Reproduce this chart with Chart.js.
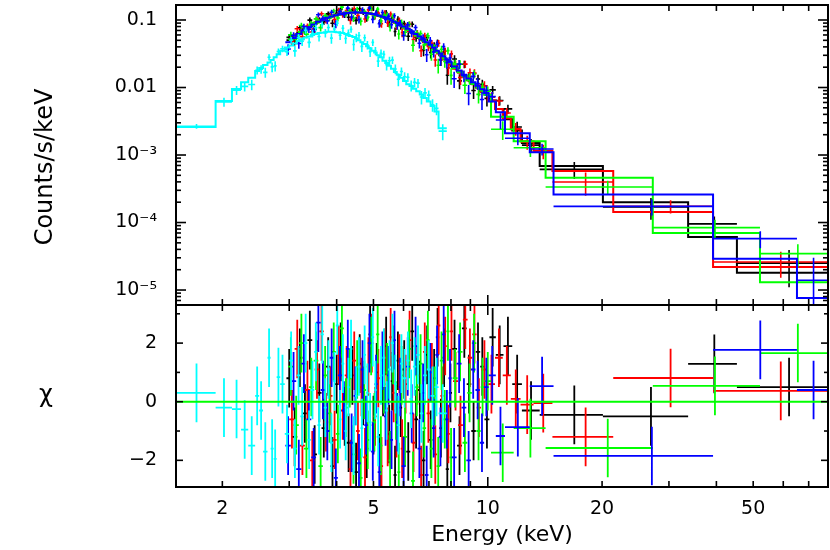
<!DOCTYPE html>
<html>
<head>
<meta charset="utf-8">
<title>Spektrum</title>
<script src="https://cdn.jsdelivr.net/npm/chart.js@4.4.1/dist/chart.umd.min.js"></script>
<style>
  html, body { margin: 0; padding: 0; background: #fff; }
  canvas { display: block; }
</style>
</head>
<body>
<canvas id="myChart" width="830" height="550"></canvas>
<script>
// Achsenbereiche
const xMin = 1.51, xMax = 78.7;
const fluxMin = 6.0e-6, fluxMax = 0.1668;
const chiMin = -2.91, chiMax = 3.3;

// Achsenbeschriftungen
const xTickValues = [2, 5, 10, 20, 50];
const xTickLabels = ['2', '5', '10', '20', '50'];
const xMinorTicks = [2, 3, 4, 5, 6, 7, 8, 9, 20, 30, 40, 50, 60, 70];
const xMajorTicks = [10];
const fluxTickValues = [1e-5, 1e-4, 1e-3, 0.01, 0.1];
const fluxTickLabels = ['10⁻⁵', '10⁻⁴', '10⁻³', '0.01', '0.1'];
const chiTickValues = [-2, 0, 2];
const chiTickLabels = ['−2', '0', '2'];
const chiMinorTicks = [-1, 1, 3];

// Daten: Kanalgrenzen (keV), Modell (Counts/s/keV), relativer Fehler, Residuen (chi)
const blackEdges = [2.95, 3.05, 3.15, 3.25, 3.35, 3.45, 3.55, 3.65, 3.75, 3.85, 3.95, 4.05, 4.15, 4.25, 4.35, 4.45, 4.55, 4.65, 4.75, 4.85,
    4.95, 5.05, 5.15, 5.25, 5.35, 5.45, 5.55, 5.65, 5.75, 5.85, 5.95, 6.1, 6.25, 6.4, 6.55, 6.7, 6.85, 7.0, 7.15, 7.3,
    7.45, 7.6, 7.75, 7.9, 8.05, 8.3, 8.55, 8.8, 9.05, 9.3, 9.55, 9.8, 10.1, 10.5, 11.0, 11.6, 12.3, 13.7, 20.1, 33.7, 45.3, 79];
const blackModel = [0.050, 0.057, 0.065, 0.073, 0.081, 0.089, 0.097, 0.104, 0.110, 0.115, 0.119, 0.123, 0.126, 0.128, 0.129, 0.130, 0.130, 0.129, 0.127, 0.125,
    0.122, 0.119, 0.115, 0.111, 0.107, 0.102, 0.098, 0.093, 0.088, 0.084, 0.078, 0.072, 0.066, 0.060, 0.054, 0.050, 0.045, 0.041, 0.037, 0.034,
    0.030, 0.027, 0.025, 0.023, 0.020, 0.0172, 0.0150, 0.0129, 0.0113, 0.0100, 0.0089, 0.0079, 0.0064, 0.0048, 0.0034, 0.0023, 0.0015, 6.9e-4, 2.0e-4, 6.1e-5, 1.8e-5];
const blackRelErr = [0.13, 0.12, 0.12, 0.11, 0.11, 0.10, 0.10, 0.10, 0.10, 0.10, 0.10, 0.10, 0.10, 0.10, 0.10, 0.10, 0.10, 0.10, 0.10, 0.10,
    0.10, 0.10, 0.10, 0.11, 0.11, 0.11, 0.11, 0.11, 0.12, 0.12, 0.12, 0.12, 0.13, 0.13, 0.13, 0.14, 0.14, 0.15, 0.15, 0.16,
    0.16, 0.17, 0.17, 0.18, 0.18, 0.18, 0.19, 0.19, 0.20, 0.20, 0.21, 0.21, 0.20, 0.21, 0.22, 0.22, 0.22, 0.25, 0.30, 0.44, 0.78];
const blackChi = [0.8, -1.2, 1.5, -0.4, 2.1, -1.8, 0.3, -0.9, 1.2, -2.2, 0.6, 1.7, -0.5, -1.4, 0.9, -2.4, 1.3, 0.2, -1.6, 2.3,
    -0.8, 1.0, -2.1, 0.5, 1.9, -1.1, 0.7, -2.5, 1.4, -0.2, 1.1, -1.7, 2.4, -0.6, 0.4, -2.0, 1.6, -1.3, 0.8, 2.2,
    -0.9, 1.5, -2.3, 0.3, 1.8, -1.5, 2.5, 0.6, -1.0, 1.7, 1.2, -0.6, 2.2, 1.6, 1.9, 0.6, -0.3, -0.45, -0.5, 1.29, 0.5];

const redEdges = [3.0, 3.1, 3.2, 3.3, 3.4, 3.5, 3.6, 3.7, 3.8, 3.9, 4.0, 4.1, 4.2, 4.3, 4.4, 4.5, 4.6, 4.7, 4.8, 4.9,
    5.0, 5.1, 5.2, 5.3, 5.4, 5.5, 5.6, 5.7, 5.8, 5.9, 6.0, 6.15, 6.3, 6.45, 6.6, 6.75, 6.9, 7.05, 7.2, 7.35,
    7.5, 7.65, 7.8, 7.95, 8.1, 8.35, 8.6, 8.85, 9.1, 9.35, 9.6, 10.0, 10.45, 10.95, 11.5, 12.2, 13.2, 14.8, 21.4, 39.2, 79];
const redModel = [0.053, 0.061, 0.069, 0.077, 0.085, 0.093, 0.100, 0.107, 0.112, 0.117, 0.121, 0.124, 0.127, 0.128, 0.129, 0.129, 0.129, 0.128, 0.126, 0.123,
    0.120, 0.117, 0.113, 0.109, 0.104, 0.099, 0.095, 0.090, 0.085, 0.081, 0.075, 0.069, 0.063, 0.057, 0.052, 0.047, 0.043, 0.039, 0.035, 0.032,
    0.029, 0.026, 0.024, 0.022, 0.019, 0.0166, 0.0145, 0.0127, 0.0112, 0.0099, 0.0086, 0.0064, 0.0048, 0.0035, 0.0024, 0.0016, 0.00116, 5.8e-4, 1.43e-4, 2.2e-5];
const redRelErr = [0.13, 0.12, 0.12, 0.11, 0.11, 0.10, 0.10, 0.10, 0.10, 0.10, 0.10, 0.10, 0.10, 0.10, 0.10, 0.10, 0.10, 0.10, 0.10, 0.10,
    0.10, 0.10, 0.10, 0.11, 0.11, 0.11, 0.11, 0.11, 0.12, 0.12, 0.12, 0.12, 0.13, 0.13, 0.13, 0.14, 0.14, 0.15, 0.15, 0.16,
    0.16, 0.17, 0.17, 0.18, 0.18, 0.19, 0.19, 0.20, 0.20, 0.21, 0.21, 0.20, 0.21, 0.22, 0.22, 0.23, 0.24, 0.26, 0.27, 0.49];
const redChi = [-0.6, 1.8, -1.5, 0.4, -2.0, 1.1, 2.4, -0.7, 0.2, -1.3, 1.6, -0.3, 0.9, -2.3, 1.4, -1.0, 0.5, -1.9, 1.2, 2.0,
    -0.5, 0.8, -2.2, 1.5, -1.2, 2.2, 0.3, -0.9, 1.3, -1.6, 0.6, 2.1, -1.4, 0.9, -2.5, 1.7, -0.4, 1.0, -1.8, 2.6,
    0.2, 1.9, -1.1, 2.4, 0.7, -0.8, 2.8, 1.5, 2.3, -0.2, 1.1, 0.6, 1.5, 0.9, 0.1, -0.1, -0.05, -1.2, 0.81, 0.37];

const greenEdges = [2.98, 3.08, 3.18, 3.28, 3.38, 3.48, 3.58, 3.68, 3.78, 3.88, 3.98, 4.08, 4.18, 4.28, 4.38, 4.48, 4.58, 4.68, 4.78, 4.88,
    4.98, 5.08, 5.18, 5.28, 5.38, 5.48, 5.58, 5.68, 5.78, 5.88, 5.98, 6.13, 6.28, 6.43, 6.58, 6.73, 6.88, 7.03, 7.18, 7.33,
    7.48, 7.63, 7.78, 7.93, 8.08, 8.33, 8.58, 8.83, 9.08, 9.33, 9.58, 9.8, 10.2, 11.7, 14.2, 27.2, 52.1, 79];
const greenModel = [0.052, 0.059, 0.067, 0.075, 0.083, 0.091, 0.099, 0.106, 0.111, 0.116, 0.120, 0.124, 0.127, 0.128, 0.130, 0.130, 0.130, 0.129, 0.127, 0.124,
    0.121, 0.118, 0.114, 0.110, 0.106, 0.101, 0.097, 0.092, 0.087, 0.083, 0.077, 0.071, 0.065, 0.059, 0.054, 0.049, 0.045, 0.041, 0.037, 0.033,
    0.030, 0.027, 0.025, 0.023, 0.0195, 0.0168, 0.0147, 0.0128, 0.0113, 0.0100, 0.0090, 0.0078, 0.0037, 0.0016, 4.6e-4, 7.0e-5, 1.3e-5];
const greenRelErr = [0.13, 0.12, 0.12, 0.11, 0.11, 0.10, 0.10, 0.10, 0.10, 0.10, 0.10, 0.10, 0.10, 0.10, 0.10, 0.10, 0.10, 0.10, 0.10, 0.10,
    0.10, 0.10, 0.10, 0.11, 0.11, 0.11, 0.11, 0.11, 0.12, 0.12, 0.12, 0.12, 0.13, 0.13, 0.13, 0.14, 0.14, 0.15, 0.15, 0.16,
    0.16, 0.17, 0.17, 0.18, 0.18, 0.19, 0.19, 0.20, 0.20, 0.21, 0.21, 0.19, 0.20, 0.22, 0.17, 0.37, 1.0];
const greenChi = [1.2, -0.8, 2.0, -1.6, 0.5, 1.4, -2.2, 0.9, -0.4, 1.7, -1.1, 2.5, -0.2, 0.8, -1.8, 1.1, -2.6, 0.4, -1.3, 1.9,
    -0.7, 2.3, -1.5, 0.6, 1.0, -2.0, 1.6, -0.3, -2.4, 0.9, -1.2, 1.8, -2.7, 0.5, 1.3, -0.9, 2.1, -1.6, 0.2, -2.2,
    1.4, -0.6, 2.4, -1.9, 0.8, 1.7, -1.4, 0.3, 2.0, -1.0, 0.5, 0.7, -1.74, -0.9, -1.58, 0.54, 1.66];

const blueEdges = [2.93, 3.03, 3.13, 3.23, 3.33, 3.43, 3.53, 3.63, 3.73, 3.83, 3.93, 4.03, 4.13, 4.23, 4.33, 4.43, 4.53, 4.63, 4.73, 4.83,
    4.93, 5.03, 5.13, 5.23, 5.33, 5.43, 5.53, 5.63, 5.73, 5.83, 5.93, 6.08, 6.23, 6.38, 6.53, 6.68, 6.83, 6.98, 7.13, 7.28,
    7.43, 7.58, 7.73, 7.88, 8.03, 8.28, 8.53, 8.78, 9.03, 9.28, 9.53, 9.78, 10.05, 10.5, 11.1, 12.9, 14.9, 39.2, 65.2, 79];
const blueModel = [0.047, 0.054, 0.062, 0.070, 0.078, 0.086, 0.094, 0.101, 0.108, 0.113, 0.118, 0.122, 0.125, 0.127, 0.129, 0.129, 0.129, 0.128, 0.127, 0.125,
    0.123, 0.120, 0.116, 0.112, 0.108, 0.104, 0.099, 0.094, 0.090, 0.085, 0.080, 0.074, 0.068, 0.062, 0.057, 0.052, 0.047, 0.043, 0.039, 0.035,
    0.032, 0.029, 0.026, 0.024, 0.0205, 0.0178, 0.0155, 0.0136, 0.0120, 0.0106, 0.0094, 0.0083, 0.0062, 0.0043, 0.0021, 0.0011, 2.6e-4, 2.9e-5, 7.6e-6];
const blueRelErr = [0.14, 0.13, 0.12, 0.11, 0.11, 0.10, 0.10, 0.10, 0.10, 0.10, 0.10, 0.10, 0.10, 0.10, 0.10, 0.10, 0.10, 0.10, 0.10, 0.10,
    0.10, 0.10, 0.10, 0.11, 0.11, 0.11, 0.11, 0.11, 0.12, 0.12, 0.12, 0.12, 0.13, 0.13, 0.13, 0.14, 0.14, 0.15, 0.15, 0.16,
    0.16, 0.17, 0.17, 0.18, 0.18, 0.19, 0.19, 0.20, 0.20, 0.21, 0.21, 0.19, 0.20, 0.20, 0.18, 0.22, 0.18, 0.56, 2.1];
const blueChi = [-1.5, 0.7, -2.3, 1.3, -0.6, -1.9, 2.7, 0.4, -1.0, 1.5, -2.6, 0.9, -0.3, 1.8, -1.4, 0.2, -2.1, 1.1, -0.8, 2.0,
    -1.7, 0.6, -2.4, 1.4, -0.5, 0.9, -1.3, 2.1, -0.7, 0.5, -2.2, 1.2, -0.4, 1.9, -1.6, 0.3, -2.5, 1.0, -0.9, 1.6,
    -1.2, 2.3, -0.6, 0.8, -1.9, 1.3, -0.2, -2.0, 1.1, 0.4, -1.4, 0.5, 0.9, -1.17, -0.87, 0.53, -1.85, 1.77, 0.4];

const cyanEdges = [1.5, 1.92, 2.12, 2.24, 2.34, 2.44, 2.5, 2.56, 2.63, 2.68, 2.73, 2.78, 2.84, 2.92,
    3.0, 3.07, 3.14, 3.21, 3.28, 3.35, 3.42, 3.49, 3.56, 3.63, 3.70, 3.77, 3.84, 3.91, 3.98, 4.05, 4.12, 4.19, 4.26, 4.33,
    4.40, 4.47, 4.54, 4.62, 4.70, 4.78, 4.86, 4.94, 5.02, 5.10, 5.19, 5.28, 5.37, 5.46, 5.56, 5.66, 5.76, 5.87, 5.98, 6.10,
    6.22, 6.35, 6.48, 6.62, 6.76, 6.91, 7.07, 7.24, 7.42, 7.8];
const cyanModel = [0.0026, 0.0063, 0.0095, 0.0120, 0.0140, 0.0175, 0.0195, 0.0215, 0.0235, 0.0255, 0.028, 0.031, 0.035, 0.039,
    0.042, 0.045, 0.049, 0.052, 0.055, 0.057, 0.060, 0.062, 0.064, 0.065, 0.066, 0.067, 0.067, 0.067, 0.066, 0.065, 0.064, 0.062, 0.060, 0.058,
    0.056, 0.053, 0.050, 0.047, 0.044, 0.041, 0.038, 0.035, 0.033, 0.030, 0.028, 0.025, 0.023, 0.021, 0.019, 0.017, 0.0155, 0.014, 0.0125, 0.0112,
    0.0105, 0.0096, 0.0088, 0.0079, 0.0070, 0.0062, 0.0053, 0.0044, 0.0025];
const cyanRelErr = [0.08, 0.15, 0.15, 0.14, 0.14, 0.14, 0.14, 0.13, 0.13, 0.13, 0.13, 0.12, 0.12, 0.12,
    0.14, 0.14, 0.14, 0.14, 0.14, 0.14, 0.14, 0.14, 0.14, 0.14, 0.14, 0.14, 0.14, 0.14, 0.14, 0.14, 0.14, 0.14, 0.14, 0.14,
    0.15, 0.15, 0.15, 0.15, 0.15, 0.15, 0.15, 0.15, 0.15, 0.15, 0.16, 0.16, 0.17, 0.17, 0.17, 0.18, 0.18, 0.18, 0.19, 0.19,
    0.19, 0.20, 0.20, 0.21, 0.21, 0.22, 0.22, 0.23, 0.24];
const cyanChi = [0.3, -0.2, -0.25, -0.95, -1.5, 0.2, -0.3, -1.7, 1.5, -1.6, -1.95, 0.84, 0.6, -1.1,
    1.4, -1.6, 0.9, -0.5, 2.0, -1.3, 0.4, 1.7, -0.8, 2.3, -0.2, 1.1, -1.4, 0.7, 2.6, -0.6, 1.3, -1.0, 0.5, 1.8,
    -1.5, 0.2, 1.2, -0.9, 1.6, 0.3, -0.7, 2.2, 0.4, -1.2, 0.9, 1.5, -0.3, 1.1, 2.0, 0.6, -0.8, 1.3, 0.8, 1.4,
    0.1, 1.2, 1.6, -0.4, 0.9, 1.1, 0.2, 0.5, -0.4];

// Reihenfolge wie in XSPEC: schwarz, rot, gruen, blau, cyan (cyan oben)
const seriesList = [
    { color: '#000000', edges: blackEdges, model: blackModel, relErr: blackRelErr, chi: blackChi, order: 5 },
    { color: '#ff0000', edges: redEdges, model: redModel, relErr: redRelErr, chi: redChi, order: 4 },
    { color: '#00ff00', edges: greenEdges, model: greenModel, relErr: greenRelErr, chi: greenChi, order: 3 },
    { color: '#0000ff', edges: blueEdges, model: blueModel, relErr: blueRelErr, chi: blueChi, order: 2 },
    { color: '#00ffff', edges: cyanEdges, model: cyanModel, relErr: cyanRelErr, chi: cyanChi, order: 1 }
];

// Panelhoehen (oben Spektrum, unten Residuen)
const topWeight = 300, bottomWeight = 182;

// Kreuz = horizontaler Balken ueber den Kanal + vertikaler Fehlerbalken
function crossPoints(edges, vals, lows, highs) {
    const pts = [];
    for (let i = 0; i < vals.length; i++) {
        const lo = edges[i], hi = edges[i + 1], c = (lo + hi) / 2;
        pts.push({ x: lo, y: vals[i] }, { x: hi, y: vals[i] }, { x: c, y: null },
                 { x: c, y: lows[i] }, { x: c, y: highs[i] }, { x: c, y: null });
    }
    return pts;
}

const datasets = [];
seriesList.forEach(s => {
    const n = s.model.length;
    const err = s.model.map((m, i) => m * s.relErr[i]);
    const rate = s.model.map((m, i) => m + s.chi[i] * err[i]); // chi = (Daten - Modell) / Fehler
    const lowF = rate.map((r, i) => Math.max(r - err[i], fluxMin));
    const highF = rate.map((r, i) => Math.min(r + err[i], fluxMax));
    datasets.push({
        data: crossPoints(s.edges, rate, lowF, highF),
        yAxisID: 'yFlux', borderColor: s.color, borderWidth: 1.6, order: s.order, clip: 0
    });
    datasets.push({
        data: s.edges.map((e, i) => ({ x: e, y: s.model[Math.min(i, n - 1)] })),
        stepped: 'before', yAxisID: 'yFlux', borderColor: s.color, borderWidth: 2, order: s.order, clip: 0
    });
    const lowC = s.chi.map(c => Math.max(c - 1, chiMin));
    const highC = s.chi.map(c => Math.min(c + 1, chiMax));
    datasets.push({
        data: crossPoints(s.edges, s.chi, lowC, highC),
        yAxisID: 'yChi', borderColor: s.color, borderWidth: 1.8, order: s.order, clip: 0
    });
});
// Nulllinie im Residuenpanel
datasets.push({
    data: [{ x: xMin, y: 0 }, { x: xMax, y: 0 }],
    yAxisID: 'yChi', borderColor: '#00ff00', borderWidth: 2, order: 0, clip: 0
});

// Rahmen, Ticks nach innen und Achsentitel links
const framePlugin = {
    id: 'framePlugin',
    afterDatasetsDraw(chart) {
        const ctx = chart.ctx;
        const sx = chart.scales.x, yf = chart.scales.yFlux, yc = chart.scales.yChi;
        const L = chart.chartArea.left, R = chart.chartArea.right;
        ctx.save();
        ctx.strokeStyle = '#000';
        ctx.lineWidth = 2;
        ctx.strokeRect(L, yf.top, R - L, yf.bottom - yf.top);
        ctx.strokeRect(L, yc.top, R - L, yc.bottom - yc.top);
        ctx.lineWidth = 1.6;
        const line = (x1, y1, x2, y2) => { ctx.beginPath(); ctx.moveTo(x1, y1); ctx.lineTo(x2, y2); ctx.stroke(); };
        const xTick = (v, len) => {
            const p = sx.getPixelForValue(v);
            [yf, yc].forEach(a => { line(p, a.top, p, a.top + len); line(p, a.bottom, p, a.bottom - len); });
        };
        xMinorTicks.forEach(v => xTick(v, 6));
        xMajorTicks.forEach(v => xTick(v, 10));
        const yTick = (scale, v, len) => {
            const p = scale.getPixelForValue(v);
            line(L, p, L + len, p); line(R, p, R - len, p);
        };
        for (let e = -6; e <= -1; e++) {
            for (let m = 2; m <= 9; m++) {
                const v = m * Math.pow(10, e);
                if (v > fluxMin && v < fluxMax) yTick(yf, v, 5);
            }
        }
        fluxTickValues.forEach(v => yTick(yf, v, 10));
        chiMinorTicks.forEach(v => yTick(yc, v, 4));
        chiTickValues.forEach(v => yTick(yc, v, 7));

        ctx.fillStyle = '#000';
        ctx.textAlign = 'center';
        ctx.textBaseline = 'middle';
        ctx.font = '24px "DejaVu Sans"';
        ctx.translate(46, 167);
        ctx.rotate(-Math.PI / 2);
        ctx.fillText('Counts/s/keV', 0, 0);
        ctx.restore();
        ctx.save();
        ctx.fillStyle = '#000';
        ctx.textAlign = 'center';
        ctx.textBaseline = 'middle';
        ctx.font = '24px "DejaVu Sans"';
        ctx.fillText('χ', 46, 396);
        ctx.restore();
    }
};

Chart.defaults.font.family = '"DejaVu Sans"';
Chart.defaults.color = '#000';

const noPad = s => { s.paddingTop = 0; s.paddingBottom = 0; s.paddingLeft = 0; s.paddingRight = 0; };

const ctx = document.getElementById('myChart').getContext('2d');
const myChart = new Chart(ctx, {
    type: 'line',
    data: { datasets: datasets },
    options: {
        responsive: false,
        animation: false,
        events: [],
        devicePixelRatio: 1,
        layout: { padding: { top: 5, right: 2, left: 0, bottom: 0 } },
        elements: {
            point: { radius: 0 },
            line: { tension: 0, fill: false, borderCapStyle: 'butt', borderJoinStyle: 'miter' }
        },
        spanGaps: false,
        plugins: { legend: { display: false }, tooltip: { enabled: false } },
        scales: {
            x: {
                type: 'logarithmic', min: xMin, max: xMax, position: 'bottom',
                grid: { display: false, drawTicks: false }, border: { display: false },
                afterBuildTicks: s => { s.ticks = xTickValues.map(v => ({ value: v })); },
                ticks: {
                    callback: (v, i) => xTickLabels[i],
                    font: { size: 19 }, padding: 11, maxRotation: 0, autoSkip: false
                },
                title: { display: true, text: 'Energy (keV)', font: { size: 22 }, padding: { top: 0, bottom: 2 } },
                afterFit: s => { s.height = 63; noPad(s); }
            },
            yChi: {
                type: 'linear', min: chiMin, max: chiMax, position: 'left',
                stack: 'panels', stackWeight: bottomWeight,
                grid: { display: false, drawTicks: false }, border: { display: false },
                afterBuildTicks: s => { s.ticks = chiTickValues.map(v => ({ value: v })); },
                ticks: { callback: (v, i) => chiTickLabels[i], font: { size: 19 }, padding: 19, autoSkip: false },
                afterFit: s => { s.width = 176; noPad(s); }
            },
            yFlux: {
                type: 'logarithmic', min: fluxMin, max: fluxMax, position: 'left',
                stack: 'panels', stackWeight: topWeight,
                grid: { display: false, drawTicks: false }, border: { display: false },
                afterBuildTicks: s => { s.ticks = fluxTickValues.map(v => ({ value: v })); },
                ticks: { callback: (v, i) => fluxTickLabels[i], font: { size: 19 }, padding: 19, autoSkip: false },
                afterFit: s => { s.width = 176; noPad(s); }
            }
        }
    },
    plugins: [framePlugin]
});
</script>
</body>
</html>
